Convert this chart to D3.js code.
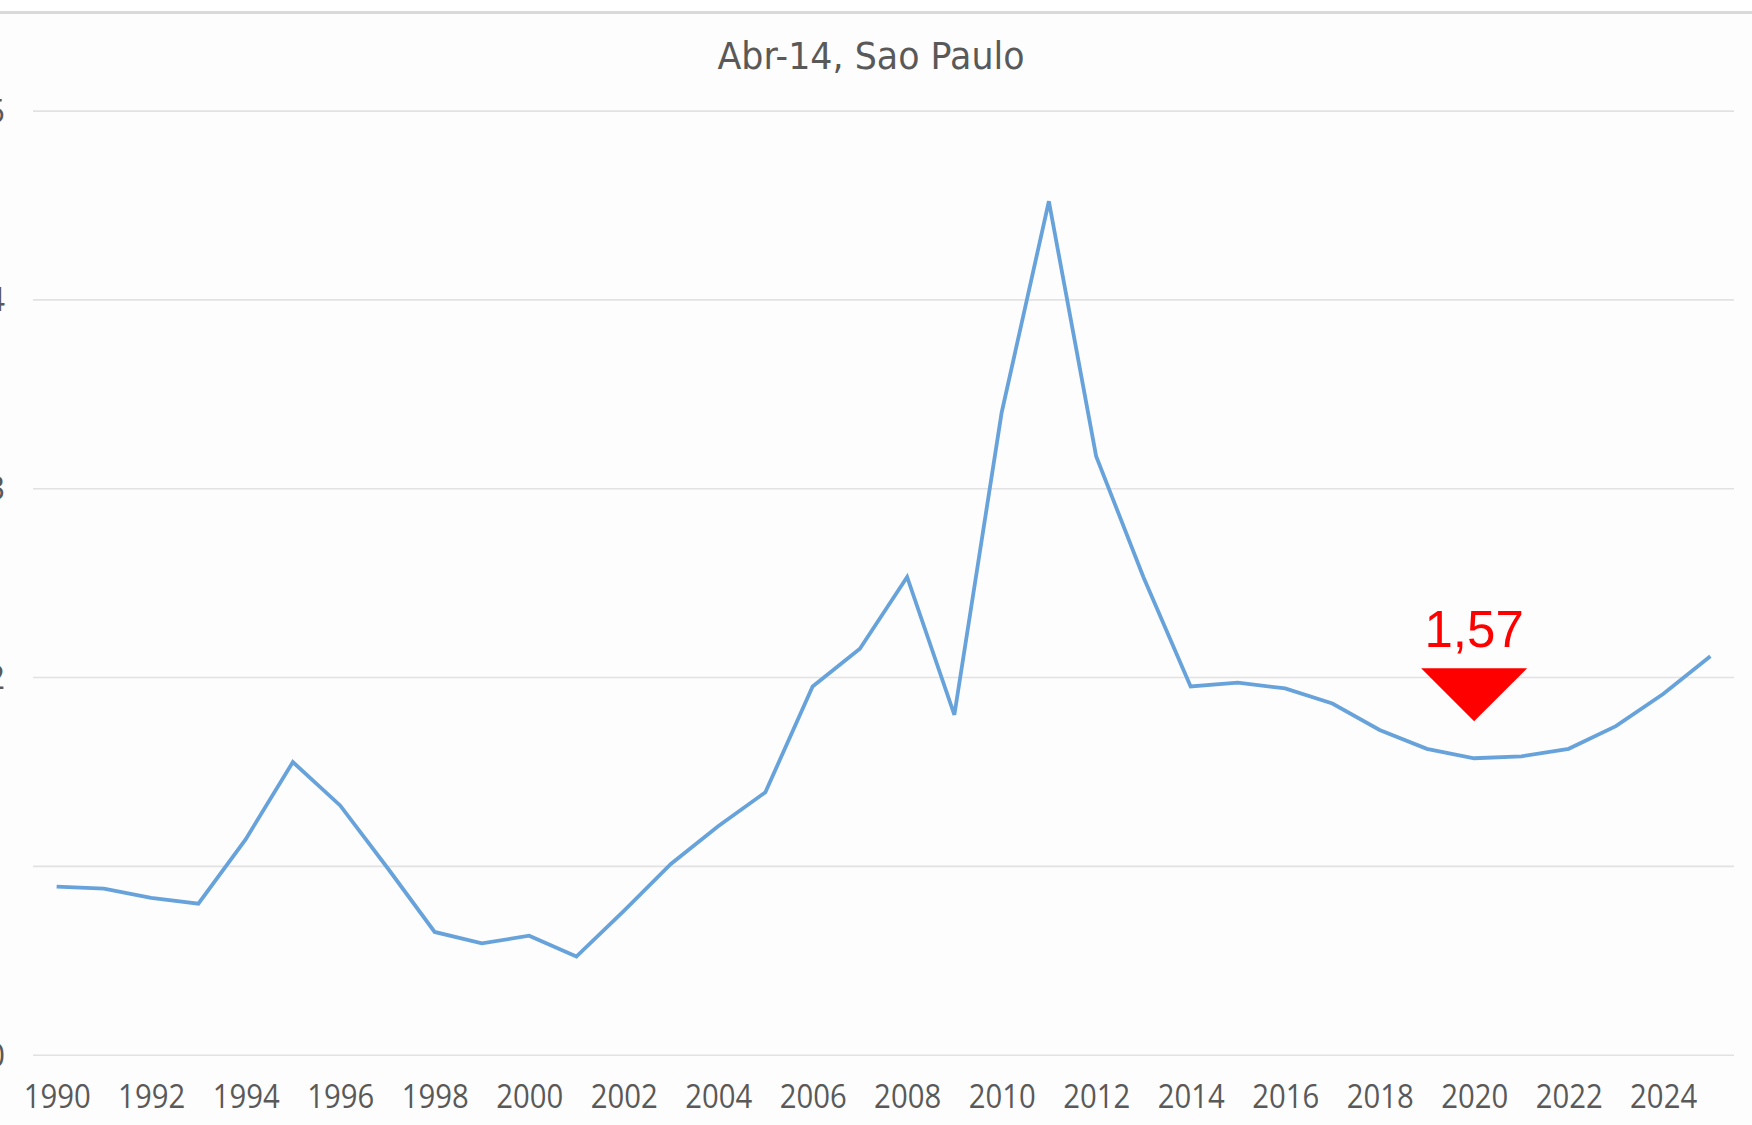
<!DOCTYPE html>
<html>
<head>
<meta charset="utf-8">
<script src="https://cdn.jsdelivr.net/npm/d3@7"></script>
<style>
  html, body { margin: 0; padding: 0; background: #ffffff; }
  svg { display: block; }
</style>
</head>
<body>
<svg id="chart" width="1752" height="1125"></svg>
<script>
// ---- data ----
const years = [1990,1991,1992,1993,1994,1995,1996,1997,1998,1999,2000,2001,2002,2003,2004,2005,2006,2007,2008,2009,2010,2011,2012,2013,2014,2015,2016,2017,2018,2019,2020,2021,2022,2023,2024,2025];
const values = [0.89,0.88,0.83,0.80,1.14,1.55,1.32,0.99,0.65,0.59,0.63,0.52,0.76,1.01,1.21,1.39,1.95,2.15,2.53,1.80,3.40,4.52,3.17,2.53,1.95,1.97,1.94,1.86,1.72,1.62,1.57,1.58,1.62,1.74,1.91,2.11];
const xTickLabels = ["1990","1992","1994","1996","1998","2000","2002","2004","2006","2008","2010","2012","2014","2016","2018","2020","2022","2024"];
const yTickLabels = [0,1,2,3,4,5];
const titleText = "Abr-14, Sao Paulo";
const annotYear = 2020;
const annotLabel = "1,57";

// ---- layout ----
const W = 1752, H = 1125;
const svg = d3.select("#chart");

svg.append("rect").attr("x",0).attr("y",13).attr("width",W).attr("height",H-13).attr("fill","#fdfdfd");
svg.append("line").attr("x1",0).attr("x2",W).attr("y1",12.5).attr("y2",12.5)
  .attr("stroke","#d9d9d9").attr("stroke-width",3);

const x = d3.scalePoint().domain(years).range([33,1734]).padding(0.5);
const y = d3.scaleLinear().domain([0,5]).range([1054.7,110.6]);

// gridlines via axis
const gAxisY = svg.append("g").attr("class","yaxis")
  .call(d3.axisLeft(y).tickValues(yTickLabels).tickSize(-(1734-33)).tickFormat(d3.format("d")))
  .attr("transform","translate(33,0)");
gAxisY.select(".domain").remove();
gAxisY.selectAll(".tick line").attr("stroke","#e2e2e2").attr("stroke-width",1.6);
gAxisY.selectAll(".tick text")
  .attr("x", -28)
  .attr("dy","0.36em")
  .attr("fill","#595959")
  .style("font-family","'Open Sans','DejaVu Sans',sans-serif")
  .style("font-size","32px");

// x axis
const gAxisX = svg.append("g").attr("class","xaxis")
  .attr("transform","translate(0,1054.7)")
  .call(d3.axisBottom(x).tickValues(xTickLabels.map(Number)).tickSize(0).tickFormat(d3.format("d")));
gAxisX.select(".domain").remove();
gAxisX.selectAll(".tick text")
  .attr("y", 0)
  .attr("dy", 0)
  .attr("transform","translate(0,53)")
  .attr("fill","#595959")
  .attr("textLength",67)
  .attr("lengthAdjust","spacingAndGlyphs")
  .style("font-family","'Open Sans','DejaVu Sans',sans-serif")
  .style("font-size","32px");

// title
svg.append("text")
  .attr("x",871).attr("y",69)
  .attr("text-anchor","middle")
  .attr("fill","#595959")
  .attr("textLength",307)
  .attr("lengthAdjust","spacingAndGlyphs")
  .style("font-family","'DejaVu Sans','Open Sans',sans-serif")
  .style("font-size","37px")
  .text(titleText);

// line
const line = d3.line().x((d,i)=>x(years[i])).y(d=>y(d));
svg.append("path")
  .datum(values)
  .attr("d",line)
  .attr("fill","none")
  .attr("stroke","#67a3da")
  .attr("stroke-width",3.8)
  .attr("stroke-linejoin","miter");

// annotation
const ai = years.indexOf(annotYear);
const ax = x(annotYear), ay = y(values[ai]);
const apexY = ay - 37, topY = apexY - 53;
svg.append("path")
  .attr("d", `M${ax-53},${topY} L${ax+53},${topY} L${ax},${apexY} Z`)
  .attr("fill","#ff0000");
svg.append("text")
  .attr("x",ax).attr("y",topY-21)
  .attr("text-anchor","middle")
  .attr("fill","#ff0000")
  .style("font-family","'Liberation Sans',Arial,sans-serif")
  .style("font-size","51px")
  .text(annotLabel);
</script>
</body>
</html>
